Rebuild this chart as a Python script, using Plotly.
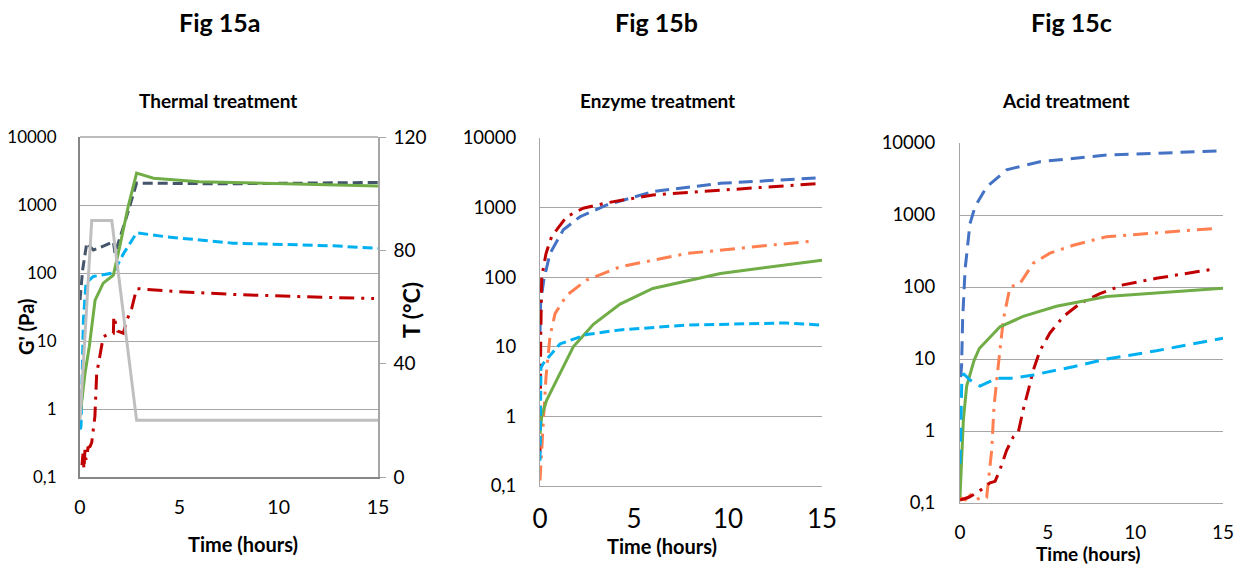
import plotly.graph_objects as go

# Browser adds an 8px body margin; work in reference pixels and shift.
OFF = 8
W, H = 1243 - OFF, 565 - OFF
FONT = "Lato"

# ---------------- Panel a: Thermal treatment ----------------
a_dark_t = [0.0, 0.13, 0.34, 0.67, 1.2, 1.68, 1.76, 2.0, 2.35, 2.85, 4.0, 7.0, 10.0, 15.0]
a_dark_g = [40, 110, 275, 218, 250, 290, 195, 320, 680, 2100, 2080, 2050, 2080, 2150]

a_green_t = [0.0, 0.08, 0.25, 0.47, 0.76, 1.17, 1.68, 2.0, 2.43, 2.85, 3.7, 6.0, 9.4, 15.0]
a_green_g = [0.8, 1.35, 3.3, 8.4, 40, 71, 93, 245, 960, 2950, 2470, 2200, 2070, 1900]

a_lblue_t = [0.0, 0.05, 0.08, 0.17, 0.3, 0.67, 1.68, 2.2, 2.85, 4.36, 7.7, 12.75, 15.0]
a_lblue_g = [0.5, 0.55, 1.2, 20, 71, 89, 100, 195, 390, 340, 275, 251, 230]

a_red_t = [0.1, 0.15, 0.2, 0.25, 0.3, 0.35, 0.4, 0.5, 0.59, 0.75, 0.84, 1.17, 1.5, 1.68, 1.7, 1.9, 2.18, 2.35, 2.6, 2.85, 5.0, 8.0, 11.0, 14.8]
a_red_g = [0.15, 0.22, 0.13, 0.25, 0.18, 0.2, 0.27, 0.28, 0.32, 0.78, 3.3, 11.5, 13, 13, 23, 14, 13, 20, 30, 59, 53, 48, 45, 42]

a_temp_t = [0.0, 0.59, 1.6, 2.85, 15.0]
a_temp_T = [20, 90.5, 90.5, 20, 20]

# ---------------- Panel b: Enzyme treatment ----------------
b_blue_t = [0.0, 0.03, 0.2, 0.53, 1.24, 2.13, 3.55, 6.0, 9.6, 15.0]
b_blue_g = [15, 42, 91, 219, 480, 740, 1090, 1700, 2230, 2700]

b_red_t = [0.0, 0.02, 0.04, 0.09, 0.32, 0.62, 1.42, 2.3, 3.55, 6.0, 9.6, 14.9]
b_red_g = [0.3, 5, 14, 100, 219, 385, 740, 980, 1170, 1520, 1780, 2230]

b_salmon_t = [0.0, 0.1, 0.18, 0.32, 0.53, 0.8, 1.42, 2.48, 4.26, 7.8, 11.35, 14.45]
b_salmon_g = [0.12, 0.3, 0.87, 3.7, 14, 30, 55, 91, 141, 219, 273, 330]

b_green_t = [0.0, 0.09, 0.35, 1.06, 1.77, 2.84, 4.26, 6.0, 9.6, 15.0]
b_green_g = [0.56, 1.0, 1.7, 4.1, 10, 21, 41, 69, 113, 175]

b_lblue_t = [0.0, 0.02, 0.05, 0.18, 1.06, 2.48, 4.26, 7.8, 11.35, 13.1, 15.0]
b_lblue_g = [0.23, 0.9, 5, 5.8, 11, 15, 17.5, 20.5, 21.5, 22, 20.5]

# ---------------- Panel c: Acid treatment ----------------
c_blue_t = [0.04, 0.09, 0.15, 0.29, 0.57, 0.86, 1.52, 2.66, 4.56, 8.37, 15.0]
c_blue_g = [5.6, 8, 35, 175, 760, 1310, 2450, 4240, 5500, 6800, 7800]

c_salmon_t = [0.0, 0.3, 0.6, 0.9, 1.2, 1.52, 1.81, 1.94, 2.19, 2.47, 2.85, 3.42, 4.18, 5.13, 6.46, 8.37, 12.2, 14.6]
c_salmon_g = [0.12, 0.11, 0.13, 0.11, 0.12, 0.12, 0.55, 2.2, 8.4, 35, 100, 112, 214, 295, 380, 500, 590, 650]

c_red_t = [0.0, 0.5, 1.0, 1.3, 1.71, 2.0, 2.28, 2.66, 3.04, 3.33, 3.6, 3.9, 4.18, 4.56, 5.13, 5.9, 6.84, 7.98, 9.3, 11.2, 13.1, 14.25]
c_red_g = [0.11, 0.12, 0.14, 0.16, 0.19, 0.2, 0.29, 0.54, 0.83, 0.97, 1.95, 3.7, 7, 13, 23, 39, 59, 81, 107, 132, 155, 174]

c_green_t = [0.0, 0.1, 0.19, 0.38, 0.6, 0.8, 1.1, 1.52, 2.28, 3.6, 5.5, 8.37, 12.2, 15.0]
c_green_g = [0.12, 0.49, 1.4, 4.2, 6.5, 9.5, 14, 18, 28, 39, 54, 74, 87, 96]

c_lblue_t = [0.0, 0.04, 0.1, 0.19, 0.57, 1.14, 2.09, 3.04, 4.18, 6.46, 8.37, 11.2, 15.0]
c_lblue_g = [0.35, 1.4, 4.6, 6.3, 5.1, 4.2, 5.4, 5.4, 6, 7.8, 10, 13, 19.5]

log_tickvals = [0.1, 1, 10, 100, 1000, 10000]
log_ticktext = ["0,1", "1", "10", "100", "1000", "10000"]
time_ticks = [0, 5, 10, 15]
temp_ticks = [0, 40, 80, 120]

C_DARK = "#44546A"
C_GREEN = "#70AD47"
C_LBLUE = "#00B0F0"
C_RED = "#C00000"
C_GRAY = "#BFBFBF"
C_BLUE = "#4472C4"
C_SALMON = "#FF7F50"

DASH = "10px,5px"
DASHDOT = "15px,7px,3px,7px"
LW = 3

fig = go.Figure()


def add(t, g, color, dash, xa, ya, width=LW):
    fig.add_trace(go.Scatter(x=t, y=g, mode="lines", xaxis=xa, yaxis=ya,
                             line=dict(color=color, dash=dash, width=width),
                             showlegend=False, hoverinfo="skip"))


# panel a
add(a_temp_t, a_temp_T, C_GRAY, "solid", "x", "y4")
add(a_dark_t, a_dark_g, C_DARK, DASH, "x", "y")
add(a_lblue_t, a_lblue_g, C_LBLUE, DASH, "x", "y")
add(a_red_t, a_red_g, C_RED, DASHDOT, "x", "y")
add(a_green_t, a_green_g, C_GREEN, "solid", "x", "y")
# panel b
add(b_blue_t, b_blue_g, C_BLUE, "14px,7px", "x2", "y2")
add(b_red_t, b_red_g, C_RED, DASHDOT, "x2", "y2")
add(b_salmon_t, b_salmon_g, C_SALMON, DASHDOT, "x2", "y2")
add(b_green_t, b_green_g, C_GREEN, "solid", "x2", "y2")
add(b_lblue_t, b_lblue_g, C_LBLUE, DASH, "x2", "y2")
# panel c
add(c_blue_t, c_blue_g, C_BLUE, "14px,8px", "x3", "y3")
add(c_salmon_t, c_salmon_g, C_SALMON, DASHDOT, "x3", "y3")
add(c_red_t, c_red_g, C_RED, DASHDOT, "x3", "y3")
add(c_green_t, c_green_g, C_GREEN, "solid", "x3", "y3")
add(c_lblue_t, c_lblue_g, C_LBLUE, "14px,8px", "x3", "y3")


def fx(p):
    return (p - OFF) / W


def fy(p):
    return 1 - (p - OFF) / H


def dom_x(a, b):
    return [fx(a), fx(b)]


def dom_y(top, bottom):
    return [fy(bottom), fy(top)]


GRID = "#A6A6A6"
AX = "#868686"
TICK = 18.5


def xaxis(domain, anchor, size, standoff, linecolor, linewidth):
    return dict(domain=domain, anchor=anchor, range=[0, 15], tickvals=time_ticks,
                showgrid=False, zeroline=False, showline=True, linecolor=linecolor,
                linewidth=linewidth, ticks="", automargin=False,
                tickfont=dict(family=FONT, size=size, color="#000"),
                ticklabelstandoff=standoff, fixedrange=True)


def yaxis(domain, anchor, size, standoff, linecolor, linewidth):
    return dict(domain=domain, anchor=anchor, type="log", range=[-1, 4],
                tickvals=log_tickvals, ticktext=log_ticktext,
                showgrid=True, gridcolor=GRID, gridwidth=1, zeroline=False,
                showline=True, linecolor=linecolor, linewidth=linewidth, ticks="",
                automargin=False,
                tickfont=dict(family=FONT, size=size, color="#000"),
                ticklabelstandoff=standoff, fixedrange=True)


fig.update_layout(
    width=W, height=H, margin=dict(l=0, r=0, t=0, b=0, autoexpand=False),
    paper_bgcolor="white", plot_bgcolor="white",
    xaxis=xaxis(dom_x(80, 378), "y", 19.5, 12, AX, 2),
    yaxis=yaxis(dom_y(137, 477), "x", 17, 18, AX, 2),
    yaxis4=dict(overlaying="y", side="right", anchor="x", range=[0, 120],
                tickvals=temp_ticks, showgrid=False, zeroline=False,
                showline=True, linecolor="#A6A6A6", linewidth=1.5,
                ticks="outside", ticklen=6, tickcolor="#A6A6A6", automargin=False,
                tickfont=dict(family=FONT, size=19, color="#000"),
                ticklabelstandoff=4, fixedrange=True),
    xaxis2=xaxis(dom_x(540, 822), "y2", 26, 10, GRID, 1),
    yaxis2=yaxis(dom_y(138, 486), "x2", TICK, 19, GRID, 1),
    xaxis3=xaxis(dom_x(960, 1223), "y3", 19, 12, GRID, 1),
    yaxis3=yaxis(dom_y(143, 503), "x3", TICK, 20, GRID, 1),
)

ann = []


def text(x, y, s, size, bold=True, angle=0):
    ann.append(dict(x=fx(x), y=fy(y), xref="paper", yref="paper",
                    text=("<b>%s</b>" % s) if bold else s,
                    showarrow=False, xanchor="center", yanchor="middle", textangle=angle,
                    font=dict(family=FONT, size=size, color="#000")))


text(219, 22, "Fig 15a", 25)
text(656, 22, "Fig 15b", 25)
text(1071, 22, "Fig 15c", 25)
text(218, 100, "Thermal treatment", 19)
text(657, 100, "Enzyme treatment", 19)
text(1066, 100, "Acid treatment", 19)
text(243, 544, "Time (hours)", 20)
text(662, 546, "Time (hours)", 20)
text(1088, 553, "Time (hours)", 19)
text(26, 327, "G' (Pa)", 20, angle=-90)
text(411, 310, "T (°C)", 23, angle=-90)

fig.update_layout(annotations=ann)
# top frame line for panel a
fig.add_shape(type="line", xref="paper", yref="paper", x0=fx(80), x1=fx(378),
              y0=fy(137), y1=fy(137), line=dict(color="#A6A6A6", width=1.5))

fig.write_html("out.html")
